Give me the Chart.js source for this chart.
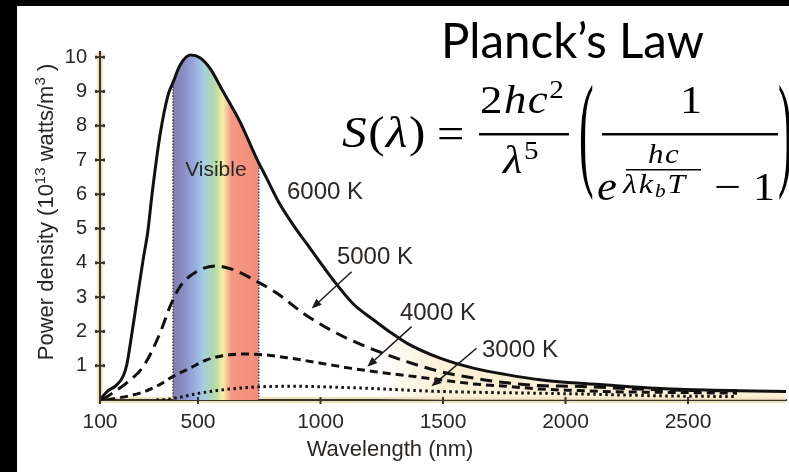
<!DOCTYPE html>
<html><head><meta charset="utf-8">
<script src="https://cdn.jsdelivr.net/npm/chart.js@4"></script>
<style>
html,body{margin:0;padding:0;background:#000;width:789px;height:472px;overflow:hidden}
#wrap{position:absolute;left:17px;top:6px;width:772px;height:466px;background:#fff}
canvas{display:block}
</style></head><body>
<div id="wrap"><canvas id="c" width="772" height="466"></canvas></div>
<script>
// ---- data ----
const xTicks = [100, 500, 1000, 1500, 2000, 2500];
const yTicks = [1, 2, 3, 4, 5, 6, 7, 8, 9, 10];

const wl6000 = [100,130,165,195,210,222,249,276,296,312,345,378,399,427,470,508,549,603,671,739,780,828,889,957,1052,1134,1216,1280,1352,1488,1624,1760,1896,2032,2141,2300,2467,2700,2900];
const pd6000 = [0,0.25,0.42,0.7,1.05,1.56,2.83,4.09,4.96,5.98,7.73,8.9,9.28,9.77,10.06,9.98,9.67,8.99,8.12,7.05,6.47,5.79,5.1,4.43,3.5,2.8,2.34,2.0,1.66,1.22,0.93,0.74,0.59,0.5,0.45,0.37,0.31,0.27,0.25];

const wl5000 = [110,140,209,277,345,386,427,495,576,644,753,821,930,1039,1120,1216,1352,1488,1624,1760,1896,2032,2141,2300,2500,2700];
const pd5000 = [0,0.15,0.5,0.98,1.95,2.73,3.31,3.75,3.91,3.8,3.41,3.12,2.53,2.05,1.76,1.47,1.12,0.83,0.64,0.5,0.42,0.4,0.37,0.32,0.28,0.27];

const wl4000 = [130,263,331,399,467,535,603,685,767,876,1012,1120,1216,1352,1488,1624,1760,1896,2032,2200,2450,2700];
const pd4000 = [0,0.2,0.4,0.69,0.93,1.17,1.29,1.34,1.32,1.22,1.06,0.93,0.83,0.71,0.59,0.47,0.4,0.32,0.28,0.24,0.22,0.2];

const wl3000 = [330,386,508,603,739,876,1120,1488,2032,2400,2700];
const pd3000 = [0,0.03,0.2,0.3,0.38,0.4,0.36,0.25,0.18,0.12,0.1];

const visibleWl  = [398,427,470,508,549,603,671,739,748];
const visibleTop = [9.2,9.77,10.06,9.98,9.67,8.99,8.12,7.05,6.9];

const curveNames = ['6000 K','5000 K','4000 K','3000 K'];

// ---- helpers ----
const pts = (xs, ys) => xs.map((x, i) => ({x, y: ys[i]}));
const SANS = '"Liberation Sans", Arial, sans-serif';
const SERIF = '"Liberation Serif", "DejaVu Serif", serif';
const INK = '#2b2724';

const infraredWl = wl6000.filter(w => w >= 1216);
const infraredPd = pd6000.filter((p, i) => wl6000[i] >= 1216);

function bandGradient(context){
  const chart = context.chart;
  const {ctx, chartArea, scales} = chart;
  if (!chartArea) return 'rgba(0,0,0,0)';
  const x0 = scales.x.getPixelForValue(visibleWl[0]);
  const x1 = scales.x.getPixelForValue(visibleWl[visibleWl.length-1]);
  const g = ctx.createLinearGradient(x0, 0, x1, 0);
  g.addColorStop(0.00, '#857fae');
  g.addColorStop(0.12, '#8a8cc2');
  g.addColorStop(0.24, '#95a9dc');
  g.addColorStop(0.36, '#a5cfe3');
  g.addColorStop(0.46, '#b0d6b2');
  g.addColorStop(0.52, '#c5dea6');
  g.addColorStop(0.58, '#f4f1a7');
  g.addColorStop(0.63, '#f6c39c');
  g.addColorStop(0.68, '#f59883');
  g.addColorStop(1.00, '#f38a7b');
  return g;
}
function beigeGradient(context){
  const chart = context.chart;
  const {ctx, chartArea, scales} = chart;
  if (!chartArea) return 'rgba(0,0,0,0)';
  const g = ctx.createLinearGradient(scales.x.getPixelForValue(1230), 0, scales.x.getPixelForValue(1500), 0);
  g.addColorStop(0, 'rgba(250,234,200,0)');
  g.addColorStop(1, 'rgba(250,234,200,0.75)');
  return g;
}

const labelSpots = [
  {text: curveNames[0], x: 863,  y: 6.07},
  {text: curveNames[1], x: 1067, y: 4.15},
  {text: curveNames[2], x: 1324, y: 2.54},
  {text: curveNames[3], x: 1659, y: 1.46}
];
const arrows = [
  {from: [1127, 3.74], to: [964, 2.67]},
  {from: [1372, 2.14], to: [1191, 0.97]},
  {from: [1637, 1.51], to: [1453, 0.40]}
];

// draw text pieces one after another, slightly widened (Cambria-like math glyphs)
function grp(ctx, x, y, parts, s, gap){
  for (const [t, font, dy] of parts){
    ctx.font = font;
    const m = ctx.measureText(t).width;
    ctx.save();
    ctx.translate(x, y + (dy || 0));
    ctx.scale(s, 1);
    ctx.fillText(t, 0, 0);
    ctx.restore();
    x += m * s + gap;
  }
  return x;
}

const decor = {
  id: 'decor',
  beforeDraw(chart){
    const {ctx, chartArea: a} = chart;
    ctx.save();
    ctx.strokeStyle = '#f1e0bb';
    ctx.lineWidth = 6;
    ctx.beginPath();
    ctx.moveTo(a.left, a.top);
    ctx.lineTo(a.left, a.bottom);
    ctx.lineTo(a.right, a.bottom);
    ctx.stroke();
    ctx.restore();
  },
  afterDraw(chart){
    const {ctx, chartArea: a, scales: {x, y}} = chart;
    ctx.save();
    // tick marks crossing the axes
    ctx.strokeStyle = '#3a3128';
    ctx.fillStyle = '#3a3128';
    ctx.lineWidth = 2;
    yTicks.forEach(v => {
      const py = y.getPixelForValue(v);
      ctx.beginPath(); ctx.moveTo(a.left - 4, py); ctx.lineTo(a.left + 4, py); ctx.stroke();
      ctx.fillRect(a.left - 5, py - 1.5, 2, 3);
      ctx.fillRect(a.left + 3, py - 1.5, 2, 3);
    });
    xTicks.forEach(v => {
      const px = x.getPixelForValue(v);
      ctx.beginPath(); ctx.moveTo(px, a.bottom - 3); ctx.lineTo(px, a.bottom + 4); ctx.stroke();
    });

    // curve labels
    ctx.fillStyle = INK;
    ctx.textBaseline = 'middle';
    ctx.textAlign = 'left';
    ctx.font = '24px ' + SANS;
    labelSpots.forEach(l => ctx.fillText(l.text, x.getPixelForValue(l.x), y.getPixelForValue(l.y)));
    ctx.textAlign = 'center';
    ctx.font = '21px ' + SANS;
    ctx.fillText('Visible', x.getPixelForValue(573), y.getPixelForValue(6.71));

    // arrows
    ctx.strokeStyle = '#1a1a1a';
    ctx.fillStyle = '#1a1a1a';
    ctx.lineWidth = 1.5;
    arrows.forEach(ar => {
      const x0 = x.getPixelForValue(ar.from[0]), y0 = y.getPixelForValue(ar.from[1]);
      const x1 = x.getPixelForValue(ar.to[0]), y1 = y.getPixelForValue(ar.to[1]);
      const ang = Math.atan2(y1 - y0, x1 - x0);
      const L = 10, W = 4;
      const bx = x1 - L * Math.cos(ang), by = y1 - L * Math.sin(ang);
      ctx.beginPath(); ctx.moveTo(x0, y0); ctx.lineTo(bx, by); ctx.stroke();
      ctx.beginPath();
      ctx.moveTo(x1, y1);
      ctx.lineTo(bx + W * Math.sin(ang), by - W * Math.cos(ang));
      ctx.lineTo(bx - W * Math.sin(ang), by + W * Math.cos(ang));
      ctx.closePath(); ctx.fill();
    });

    // axis titles
    ctx.fillStyle = INK;
    ctx.font = '22px ' + SANS;
    ctx.textAlign = 'center';
    ctx.textBaseline = 'middle';
    ctx.fillText('Wavelength (nm)', 373, 444);
    // y title with real superscripts
    const yParts = [['Power density (10', 22, 0], ['13', 15, -8], [' watts/m', 22, 0], ['3', 15, -8], [' )', 22, 0]];
    let total = 0;
    yParts.forEach(p => { ctx.font = p[1] + 'px ' + SANS; total += ctx.measureText(p[0]).width; });
    ctx.save();
    ctx.translate(28, 206);
    ctx.rotate(-Math.PI / 2);
    ctx.textAlign = 'left';
    ctx.textBaseline = 'alphabetic';
    let cx = -total / 2;
    yParts.forEach(p => {
      ctx.font = p[1] + 'px ' + SANS;
      ctx.fillText(p[0], cx, 8 + p[2]);
      cx += ctx.measureText(p[0]).width;
    });
    ctx.restore();

    // title and formula
    ctx.fillStyle = '#000';
    ctx.textAlign = 'left';
    ctx.textBaseline = 'alphabetic';
    const title = 'Planck\u2019s Law';
    ctx.font = '44px Lato';
    const fs = 44 * 263 / ctx.measureText(title).width;
    ctx.font = fs.toFixed(1) + 'px Lato';
    ctx.fillText(title, 424, 52);

    const it = s => 'italic ' + s + 'px ' + SERIF;
    const up = s => s + 'px ' + SERIF;
    grp(ctx, 325, 141, [['S', it(44)], ['(', up(44)], ['\u03BB', it(44)], [')', up(44)]], 1.12, 1.5);
    grp(ctx, 420, 142, [['=', up(44)]], 1.1, 0);
    grp(ctx, 463, 107, [['2', up(40)], ['h', it(40)], ['c', it(40)], ['2', up(26), -15]], 1.12, 1.5);
    ctx.fillRect(462, 127, 90, 2.5);
    grp(ctx, 486, 167, [['\u03BB', it(40)], ['5', up(26), -14]], 1.12, 1.5);
    // big parentheses
    ctx.font = up(40);
    ctx.save(); ctx.translate(562, 167); ctx.scale(1.1, 3.2); ctx.fillText('(', 0, 0); ctx.restore();
    ctx.save(); ctx.translate(761, 167); ctx.scale(1.1, 3.2); ctx.fillText(')', 0, 0); ctx.restore();
    ctx.fillRect(585, 127, 176, 2.5);
    grp(ctx, 663, 107, [['1', up(40)]], 1.1, 0);
    grp(ctx, 580, 194, [['e', it(40)]], 1.12, 0);
    grp(ctx, 631, 157, [['h', it(27)], ['c', it(27)]], 1.15, 1.5);
    ctx.fillRect(609, 163, 75, 1.5);
    grp(ctx, 606, 187, [['\u03BB', it(27)], ['k', it(27)], ['b', it(18), 4], ['T', it(27)]], 1.18, 2);
    grp(ctx, 697, 194, [['\u2212', up(40)]], 1.2, 0);
    grp(ctx, 736, 194, [['1', up(40)]], 1.1, 0);
    ctx.restore();
  }
};

new Chart(document.getElementById('c'), {
  type: 'line',
  data: {
    datasets: [
      {label: curveNames[0], data: pts(wl6000, pd6000), borderColor: '#111', borderWidth: 3, clip: false},
      {label: curveNames[1], data: pts(wl5000, pd5000), borderColor: '#111', borderWidth: 3, borderDash: [12, 7]},
      {label: curveNames[2], data: pts(wl4000, pd4000), borderColor: '#111', borderWidth: 3, borderDash: [8, 5]},
      {label: curveNames[3], data: pts(wl3000, pd3000), borderColor: '#111', borderWidth: 3, borderDash: [2.5, 3.5]},
      {label: 'visible-left', data: pts([visibleWl[0], visibleWl[0]], [0, visibleTop[0]]), borderColor: '#4a4040', borderWidth: 1.5, borderDash: [1.5, 1.5]},
      {label: 'visible-right', data: pts([visibleWl[visibleWl.length-1], visibleWl[visibleWl.length-1]], [0, visibleTop[visibleTop.length-1]]), borderColor: '#4a4040', borderWidth: 1.5, borderDash: [1.5, 1.5]},
      {label: 'Visible', data: pts(visibleWl, visibleTop), borderWidth: 0, borderColor: 'rgba(0,0,0,0)', fill: 'origin', backgroundColor: bandGradient},
      {label: 'infrared', data: pts(infraredWl, infraredPd), borderWidth: 0, borderColor: 'rgba(0,0,0,0)', fill: 'origin', backgroundColor: beigeGradient}
    ]
  },
  options: {
    responsive: false,
    animation: false,
    devicePixelRatio: 1,
    layout: {padding: {top: 46, right: 3, left: 0, bottom: 0}},
    plugins: {legend: {display: false}, tooltip: {enabled: false}},
    elements: {point: {radius: 0}, line: {cubicInterpolationMode: 'monotone'}},
    scales: {
      x: {
        type: 'linear', min: 100, max: 2900,
        afterBuildTicks: s => { s.ticks = xTicks.map(v => ({value: v})); },
        afterFit: s => { s.height = 72; },
        grid: {display: false, drawTicks: false},
        border: {display: true, color: '#3a3128', width: 2},
        ticks: {font: {family: SANS, size: 21}, color: INK, padding: 10, maxRotation: 0, autoSkip: false, callback: v => String(v)}
      },
      y: {
        type: 'linear', min: 0, max: 10.15,
        afterBuildTicks: s => { s.ticks = yTicks.map(v => ({value: v})); },
        afterFit: s => { s.width = 83; },
        grid: {display: false, drawTicks: false},
        border: {display: true, color: '#3a3128', width: 2},
        ticks: {font: {family: SANS, size: 20}, color: INK, padding: 13, autoSkip: false, callback: v => String(v)}
      }
    }
  },
  plugins: [decor]
});
</script>
</body></html>
